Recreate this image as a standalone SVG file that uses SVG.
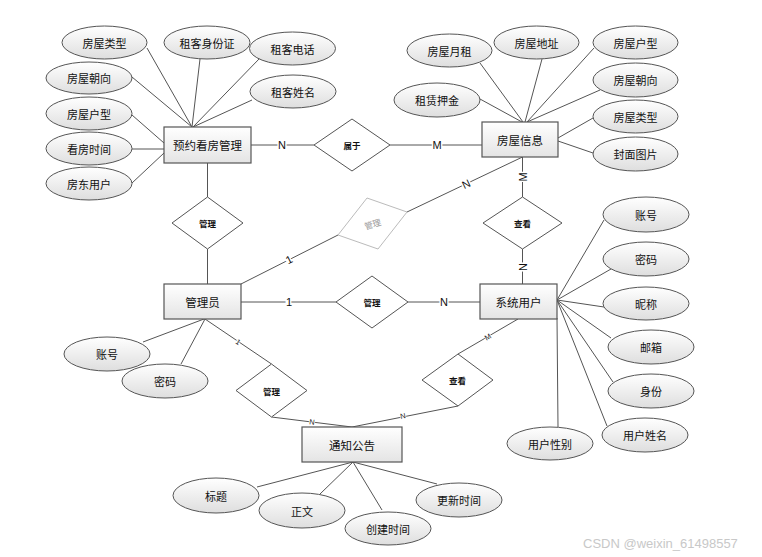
<svg xmlns="http://www.w3.org/2000/svg" width="762" height="557" viewBox="0 0 762 557">
<defs>
<linearGradient id="gE" x1="0" y1="0" x2="0" y2="1"><stop offset="0" stop-color="#ffffff"/><stop offset="1" stop-color="#dedede"/></linearGradient>
<linearGradient id="gR" x1="0" y1="0" x2="0" y2="1"><stop offset="0" stop-color="#ffffff"/><stop offset="1" stop-color="#e4e4e4"/></linearGradient>
</defs>
<style>
.e{fill:url(#gE);stroke:#555;stroke-width:1}
.r{fill:url(#gR);stroke:#555;stroke-width:1.2}
.d{fill:#fff;stroke:#555;stroke-width:1}
.dg{fill:#fff;stroke:#bbb;stroke-width:1}
.t{font-family:"Noto Sans CJK SC","Liberation Sans",sans-serif;font-size:11px;fill:#111;text-anchor:middle;dominant-baseline:central}
.te{font-family:"Noto Sans CJK SC","Liberation Sans",sans-serif;font-size:11.5px;fill:#111;text-anchor:middle;dominant-baseline:central}
.td{font-family:"Noto Sans CJK SC","Liberation Sans",sans-serif;font-size:8.5px;font-weight:bold;fill:#111;text-anchor:middle;dominant-baseline:central}
.tg{font-family:"Noto Sans CJK SC","Liberation Sans",sans-serif;font-size:8.5px;fill:#999;text-anchor:middle;dominant-baseline:central}
.c line,.c polyline{stroke:#555;stroke-width:1;fill:none}
.l{font-family:"Liberation Sans",sans-serif;font-size:11px;fill:#111;text-anchor:middle;dominant-baseline:central;stroke:#fff;stroke-width:3;paint-order:stroke}
.ls{font-family:"Liberation Sans",sans-serif;font-size:7.5px;fill:#222;text-anchor:middle;dominant-baseline:central;stroke:#fff;stroke-width:1.5;paint-order:stroke}
.wm{font-family:"Liberation Sans",sans-serif;font-size:13px;fill:#c8c8c8}
</style>
<g class="c" id="connectors">
<line x1="147" y1="48" x2="192" y2="127"/>
<line x1="200" y1="59" x2="192" y2="127"/>
<line x1="260" y1="58" x2="193" y2="127"/>
<line x1="252" y1="100" x2="193" y2="127"/>
<line x1="132" y1="77" x2="192" y2="127"/>
<line x1="132" y1="115" x2="164" y2="143"/>
<line x1="132" y1="149" x2="164" y2="149"/>
<line x1="132" y1="183" x2="164" y2="153"/>
<line x1="251" y1="145" x2="314" y2="145"/>
<line x1="390" y1="145" x2="482" y2="145"/>
<line x1="480" y1="63" x2="523" y2="122"/>
<line x1="542" y1="59" x2="525" y2="122"/>
<line x1="594" y1="48" x2="527" y2="122"/>
<line x1="600" y1="90" x2="527" y2="122"/>
<line x1="480" y1="99" x2="522" y2="122"/>
<line x1="593" y1="118" x2="558" y2="138"/>
<line x1="593" y1="153" x2="558" y2="141"/>
<line x1="522.5" y1="157" x2="522.5" y2="197"/>
<line x1="522.5" y1="249" x2="522.5" y2="284"/>
<line x1="522.5" y1="157" x2="407" y2="212"/>
<line x1="338" y1="235" x2="241" y2="284"/>
<line x1="207.5" y1="163" x2="207.5" y2="197"/>
<line x1="207.5" y1="249" x2="207.5" y2="284"/>
<line x1="241" y1="302" x2="336" y2="302"/>
<line x1="408" y1="302" x2="480" y2="302"/>
<line x1="143" y1="342" x2="204" y2="319"/>
<line x1="181" y1="364" x2="205" y2="319"/>
<line x1="205" y1="319" x2="271.5" y2="364"/>
<line x1="271.5" y1="417" x2="352" y2="427"/>
<line x1="518" y1="319" x2="458" y2="354"/>
<line x1="458" y1="406" x2="352" y2="427"/>
<line x1="557" y1="300" x2="604" y2="220"/>
<line x1="557" y1="300" x2="611" y2="269"/>
<line x1="557" y1="300" x2="604" y2="307"/>
<line x1="557" y1="300" x2="611" y2="338"/>
<line x1="557" y1="300" x2="613" y2="382"/>
<line x1="557" y1="300" x2="607" y2="426"/>
<line x1="557" y1="318" x2="558" y2="427"/>
<line x1="353" y1="462" x2="257" y2="487"/>
<line x1="353" y1="462" x2="320" y2="494"/>
<line x1="353" y1="462" x2="382" y2="510"/>
<line x1="353" y1="462" x2="437" y2="484"/>
<text class="l" x="282" y="145">N</text>
<text class="l" x="437" y="145">M</text>
<text class="l" transform="translate(522.5 177) rotate(-90)">M</text>
<text class="l" transform="translate(522.5 267) rotate(-90)">N</text>
<text class="l" transform="translate(466 184) rotate(-25.4)">N</text>
<text class="l" transform="translate(289 259.5) rotate(-26.8)">1</text>
<text class="l" x="289" y="302">1</text>
<text class="l" x="444" y="302">N</text>
<text class="ls" transform="translate(238 342) rotate(34)">1</text>
<text class="ls" transform="translate(488 337) rotate(-30.7)">M</text>
<text class="ls" transform="translate(312 422) rotate(7)">N</text>
<text class="ls" transform="translate(403 416) rotate(-11)">N</text>
</g>
<g id="n-yuyue"><rect class="r" x="164" y="127" width="87" height="36"/><text class="te" x="207.5" y="145">预约看房管理</text></g>
<g id="n-fangwu"><rect class="r" x="482" y="122" width="76" height="35"/><text class="te" x="520" y="139.5">房屋信息</text></g>
<g id="n-admin"><rect class="r" x="164" y="284" width="77" height="35"/><text class="te" x="202.5" y="301.5">管理员</text></g>
<g id="n-user"><rect class="r" x="480" y="284" width="77" height="35"/><text class="te" x="518.5" y="301.5">系统用户</text></g>
<g id="n-notice"><rect class="r" x="302" y="427" width="100" height="35"/><text class="te" x="352" y="444.5">通知公告</text></g>
<g id="r-shuyu"><polygon class="d" points="314,145 352,119 390,145 352,171"/><text class="td" x="352" y="145">属于</text></g>
<g id="r-guanli1"><polygon class="d" points="172,223 207.5,197 243,223 207.5,249"/><text class="td" x="207.5" y="223">管理</text></g>
<g id="r-guanli-gray"><polygon class="dg" points="367,198 407,212 378,249 338,235"/><text class="tg" transform="translate(372.5 223.5) rotate(-16)">管理</text></g>
<g id="r-chakan1"><polygon class="d" points="483,223 522.5,197 562,223 522.5,249"/><text class="td" x="522.5" y="223">查看</text></g>
<g id="r-guanli2"><polygon class="d" points="336,302 372,276 408,302 372,328"/><text class="td" x="372" y="302">管理</text></g>
<g id="r-guanli3"><polygon class="d" points="236,390.5 271.5,364 307,390.5 271.5,417"/><text class="td" x="271.5" y="390.5">管理</text></g>
<g id="r-chakan2"><polygon class="d" points="422,380 458,354 493,380 458,406"/><text class="td" x="457.5" y="380">查看</text></g>
<g id="a1"><ellipse class="e" cx="104.5" cy="42.5" rx="42.5" ry="16.5"/><text class="t" x="104.5" y="42.5">房屋类型</text></g>
<g id="a2"><ellipse class="e" cx="207" cy="42.5" rx="43" ry="16.5"/><text class="t" x="207" y="42.5">租客身份证</text></g>
<g id="a3"><ellipse class="e" cx="292.5" cy="48.5" rx="43" ry="16.5"/><text class="t" x="292.5" y="48.5">租客电话</text></g>
<g id="a4"><ellipse class="e" cx="293" cy="91.5" rx="43" ry="16.5"/><text class="t" x="293" y="91.5">租客姓名</text></g>
<g id="a5"><ellipse class="e" cx="89" cy="78" rx="43" ry="16"/><text class="t" x="89" y="78">房屋朝向</text></g>
<g id="a6"><ellipse class="e" cx="89" cy="113.5" rx="43" ry="16.5"/><text class="t" x="89" y="113.5">房屋户型</text></g>
<g id="a7"><ellipse class="e" cx="89" cy="148.5" rx="43" ry="16.5"/><text class="t" x="89" y="148.5">看房时间</text></g>
<g id="a8"><ellipse class="e" cx="89" cy="183.5" rx="43" ry="16.5"/><text class="t" x="89" y="183.5">房东用户</text></g>
<g id="b1"><ellipse class="e" cx="449.5" cy="50.5" rx="42.5" ry="16.5"/><text class="t" x="449.5" y="50.5">房屋月租</text></g>
<g id="b2"><ellipse class="e" cx="536.5" cy="42.5" rx="42.5" ry="16.5"/><text class="t" x="536.5" y="42.5">房屋地址</text></g>
<g id="b3"><ellipse class="e" cx="635.5" cy="42.5" rx="42.5" ry="16.5"/><text class="t" x="635.5" y="42.5">房屋户型</text></g>
<g id="b4"><ellipse class="e" cx="635.5" cy="80" rx="42.5" ry="17"/><text class="t" x="635.5" y="80">房屋朝向</text></g>
<g id="b5"><ellipse class="e" cx="635.5" cy="116.5" rx="42.5" ry="16.5"/><text class="t" x="635.5" y="116.5">房屋类型</text></g>
<g id="b6"><ellipse class="e" cx="635.5" cy="154" rx="42.5" ry="17"/><text class="t" x="635.5" y="154">封面图片</text></g>
<g id="b7"><ellipse class="e" cx="437" cy="100" rx="43" ry="17"/><text class="t" x="437" y="100">租赁押金</text></g>
<g id="c1"><ellipse class="e" cx="107" cy="354" rx="43" ry="17"/><text class="t" x="107" y="354">账号</text></g>
<g id="c2"><ellipse class="e" cx="165" cy="381" rx="43" ry="17"/><text class="t" x="165" y="381">密码</text></g>
<g id="u1"><ellipse class="e" cx="646" cy="214.5" rx="43" ry="17.5"/><text class="t" x="646" y="214.5">账号</text></g>
<g id="u2"><ellipse class="e" cx="646" cy="259" rx="43" ry="17"/><text class="t" x="646" y="259">密码</text></g>
<g id="u3"><ellipse class="e" cx="646" cy="303.5" rx="43" ry="16.5"/><text class="t" x="646" y="303.5">昵称</text></g>
<g id="u4"><ellipse class="e" cx="651" cy="347" rx="43" ry="17"/><text class="t" x="651" y="347">邮箱</text></g>
<g id="u5"><ellipse class="e" cx="651" cy="391" rx="43" ry="17"/><text class="t" x="651" y="391">身份</text></g>
<g id="u6"><ellipse class="e" cx="645" cy="435" rx="43" ry="17"/><text class="t" x="645" y="435">用户姓名</text></g>
<g id="u7"><ellipse class="e" cx="550" cy="443.5" rx="43" ry="16.5"/><text class="t" x="550" y="443.5">用户性别</text></g>
<g id="n1"><ellipse class="e" cx="216" cy="495.5" rx="43" ry="17.5"/><text class="t" x="216" y="495.5">标题</text></g>
<g id="n2"><ellipse class="e" cx="302" cy="510.5" rx="43" ry="17.5"/><text class="t" x="302" y="510.5">正文</text></g>
<g id="n3"><ellipse class="e" cx="388" cy="528.5" rx="43" ry="16.5"/><text class="t" x="388" y="528.5">创建时间</text></g>
<g id="n4"><ellipse class="e" cx="459" cy="500" rx="43" ry="17"/><text class="t" x="459" y="500">更新时间</text></g>
<text class="wm" x="583" y="548">CSDN @weixin_61498557</text>
</svg>
